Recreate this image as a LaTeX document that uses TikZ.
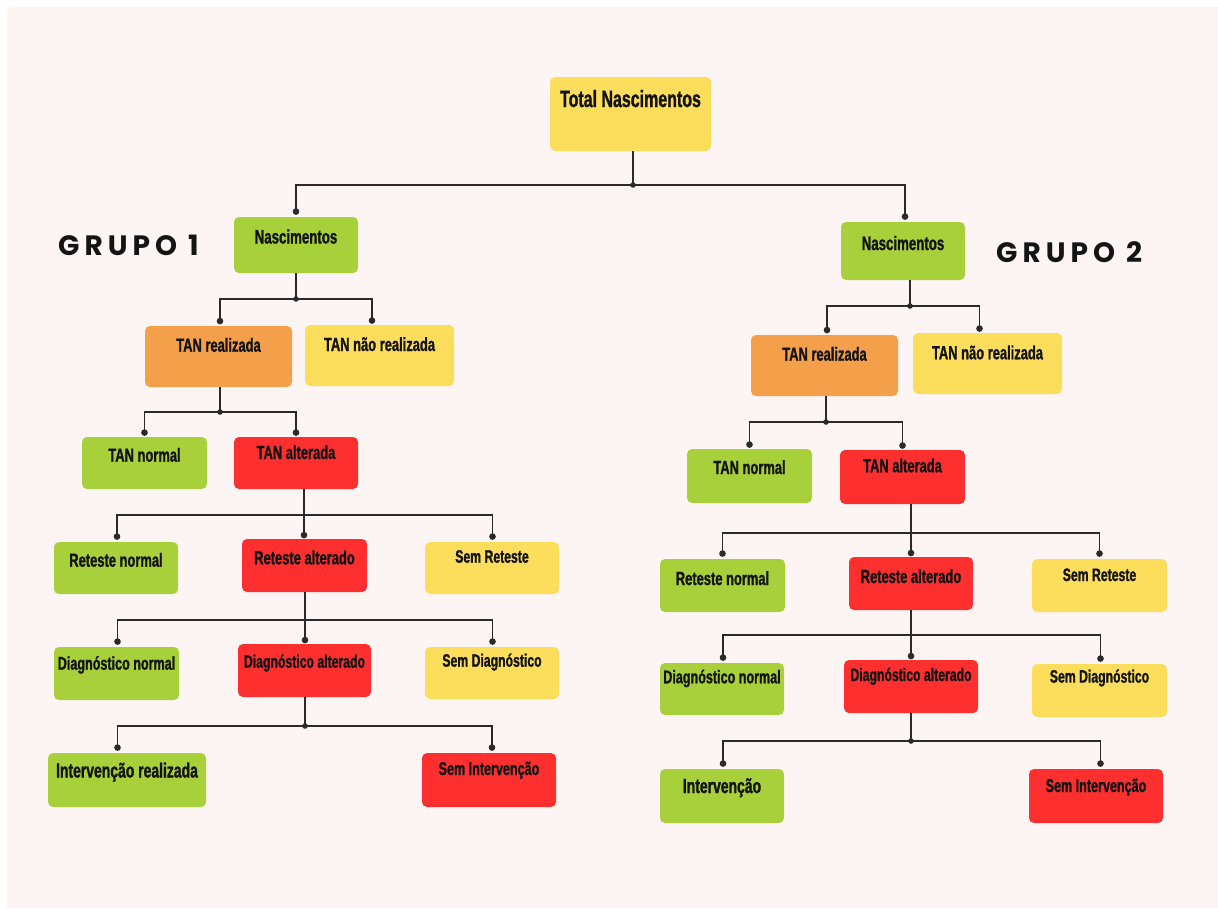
\documentclass[tikz,border=0pt]{standalone}
\usepackage{fontspec}
\usetikzlibrary{arrows.meta}
\newfontfamily\cond[FakeStretch=0.68,FakeBold=1.2]{Liberation Sans}
\newfontfamily\grp[LetterSpace=18]{Poppins}
\definecolor{bg}{HTML}{FDF5F3}
\definecolor{cyel}{HTML}{FDDE5C}
\definecolor{cgrn}{HTML}{A8D03A}
\definecolor{corg}{HTML}{F4A04A}
\definecolor{cred}{HTML}{FE2F2F}
\definecolor{lnc}{HTML}{2A2A2A}
\definecolor{txc}{HTML}{141414}
\tikzset{
  boxst/.style={rectangle, rounded corners=5pt, draw=none, inner sep=0pt, text=txc},
  conn/.style={draw=lnc, line width=1.8pt},
  tipend/.style={-{Circle[length=6.5pt,width=6.5pt]}},
  grpst/.style={inner sep=0pt, anchor=base west, text=txc, font=\grp\bfseries\fontsize{28}{28}\selectfont}
}
% name, x1, y1, x2, y2, baseline, fill, size, text
\newcommand\bx[9]{\node[boxst, fill=#7, minimum width={#4pt-#2pt}, text height={#6pt-#3pt}, text depth={#5pt-#6pt}, font=\cond\bfseries\fontsize{#8}{#8}\selectfont] (#1) at ({(#2+#4)/2},{(#3+#5)/2}) {#9};}
\newcommand\jdot[1]{\fill[lnc] (#1) circle (2.8pt);}
\begin{document}
\begin{tikzpicture}[x=1pt,y=-1pt]
\useasboundingbox (0,0) rectangle (1218,908);
\fill[white] (0,0) rectangle (1218,908);
\fill[bg] (7,7) rectangle (1218,908);

% boxes
\bx{total}{550}{77}{711}{151}{107}{cyel}{23.5}{Total Nascimentos}
\bx{n1}{234}{217}{358}{273}{243.5}{cgrn}{19.5}{Nascimentos}
\bx{n2}{841}{222}{965}{280}{250}{cgrn}{19.5}{Nascimentos}
\bx{tr1}{145}{326}{292}{387}{351.7}{corg}{19}{TAN realizada}
\bx{tn1}{305}{325}{454}{386}{351}{cyel}{19}{TAN não realizada}
\bx{tr2}{751}{335}{898}{396}{360.7}{corg}{19}{TAN realizada}
\bx{tn2}{913}{333}{1062}{394}{359.3}{cyel}{19}{TAN não realizada}
\bx{tnorm1}{82}{437}{207}{489}{461.7}{cgrn}{19}{TAN normal}
\bx{talt1}{234}{437}{358}{489}{459}{cred}{19}{TAN alterada}
\bx{tnorm2}{687}{449}{812}{503}{474}{cgrn}{19}{TAN normal}
\bx{talt2}{840}{450}{965}{504}{472.3}{cred}{19}{TAN alterada}
\bx{rn1}{54}{542}{178}{594}{566.7}{cgrn}{19}{Reteste normal}
\bx{ra1}{242}{539}{367}{592}{564.3}{cred}{19}{Reteste alterado}
\bx{sr1}{425}{542}{559}{594}{562.7}{cyel}{18}{Sem Reteste}
\bx{rn2}{660}{559}{785}{612}{585}{cgrn}{19}{Reteste normal}
\bx{ra2}{849}{557}{973}{610}{583}{cred}{19}{Reteste alterado}
\bx{sr2}{1032}{559}{1167}{612}{581}{cyel}{18}{Sem Reteste}
\bx{dn1}{54}{647}{179}{700}{669.7}{cgrn}{18.5}{Diagnóstico normal}
\bx{da1}{238}{644}{371}{697}{667.7}{cred}{18}{Diagnóstico alterado}
\bx{sd1}{425}{647}{559}{699}{666.7}{cyel}{18}{Sem Diagnóstico}
\bx{dn2}{660}{663}{784}{715}{683.3}{cgrn}{18.5}{Diagnóstico normal}
\bx{da2}{844}{660}{978}{713}{681}{cred}{18}{Diagnóstico alterado}
\bx{sd2}{1032}{664}{1167}{717}{682.6}{cyel}{18}{Sem Diagnóstico}
\bx{ir1}{48}{753}{206}{807}{777.5}{cgrn}{20.5}{Intervenção realizada}
\bx{si1}{422}{753}{556}{807}{775}{cred}{18.5}{Sem Intervenção}
\bx{iv2}{660}{769}{784}{823}{793}{cgrn}{20.5}{Intervenção}
\bx{si2}{1029}{769}{1163}{823}{792}{cred}{18.5}{Sem Intervenção}

% group labels
\node[grpst] (g1) at (58,255) {GRUPO 1};
\node[grpst] (g2) at (996,262.7) {GRUPO 2};

% connectors
\coordinate (j1) at (633,185);
\draw[conn] (total.south -| j1) -- (j1);
\draw[conn,tipend] (j1) -| ([yshift=2pt]n1.north);
\draw[conn,tipend] (j1) -| ([yshift=2pt,xshift=2pt]n2.north);
\jdot{j1}

\coordinate (j2) at (296,299);
\draw[conn] (n1.south -| j2) -- (j2);
\draw[conn,tipend] (j2) -| ([yshift=1.5pt,xshift=1.5pt]tr1.north);
\draw[conn,tipend] (j2) -| ([yshift=1pt,xshift=-7.5pt]tn1.north);
\jdot{j2}

\coordinate (j3) at (910,306);
\draw[conn] (n2.south -| j3) -- (j3);
\draw[conn,tipend] (j3) -| ([yshift=1.5pt,xshift=2.5pt]tr2.north);
\draw[conn,tipend] (j3) -| ([yshift=1pt,xshift=-8pt]tn2.north);
\jdot{j3}

\coordinate (j4) at (220,412);
\draw[conn] (tr1.south -| j4) -- (j4);
\draw[conn,tipend] (j4) -| ([yshift=1pt]tnorm1.north);
\draw[conn,tipend] (j4) -| ([yshift=1pt]talt1.north);
\jdot{j4}

\coordinate (j5) at (826,422);
\draw[conn] (tr2.south -| j5) -- (j5);
\draw[conn,tipend] (j5) -| ([yshift=1pt]tnorm2.north);
\draw[conn,tipend] (j5) -| ([yshift=1pt]talt2.north);
\jdot{j5}

\coordinate (j6) at (304,515);
\draw[conn] (talt1.south -| j6) -- (j6);
\draw[conn,tipend] (j6) -| ([yshift=2pt,xshift=1pt]rn1.north);
\draw[conn,tipend] (j6) -- ([yshift=0.5pt]ra1.north -| j6);
\draw[conn,tipend] (j6) -| ([yshift=2pt,xshift=0.5pt]sr1.north);

\coordinate (j7) at (911,533);
\draw[conn] (talt2.south -| j7) -- (j7);
\draw[conn,tipend] (j7) -| ([yshift=2pt]rn2.north);
\draw[conn,tipend] (j7) -- ([yshift=0.5pt]ra2.north -| j7);
\draw[conn,tipend] (j7) -| ([yshift=2pt]sr2.north);

\coordinate (j8) at (305,620);
\draw[conn] (ra1.south -| j8) -- (j8);
\draw[conn,tipend] (j8) -| ([yshift=2pt,xshift=1pt]dn1.north);
\draw[conn,tipend] (j8) -- ([yshift=0.5pt]da1.north -| j8);
\draw[conn,tipend] (j8) -| ([yshift=2pt,xshift=0.5pt]sd1.north);

\coordinate (j9) at (911,635);
\draw[conn] (ra2.south -| j9) -- (j9);
\draw[conn,tipend] (j9) -| ([yshift=2pt,xshift=1pt]dn2.north);
\draw[conn,tipend] (j9) -- ([yshift=0.5pt]da2.north -| j9);
\draw[conn,tipend] (j9) -| ([yshift=2pt,xshift=1pt]sd2.north);

\coordinate (j10) at (305,726);
\draw[conn] (da1.south -| j10) -- (j10);
\draw[conn,tipend] (j10) -| ([yshift=2pt,xshift=-9.5pt]ir1.north);
\draw[conn,tipend] (j10) -| ([yshift=2pt,xshift=3pt]si1.north);
\jdot{j10}

\coordinate (j11) at (911,741);
\draw[conn] (da2.south -| j11) -- (j11);
\draw[conn,tipend] (j11) -| ([yshift=2pt,xshift=1pt]iv2.north);
\draw[conn,tipend] (j11) -| ([yshift=2pt,xshift=4.5pt]si2.north);
\jdot{j11}
\end{tikzpicture}
\end{document}
